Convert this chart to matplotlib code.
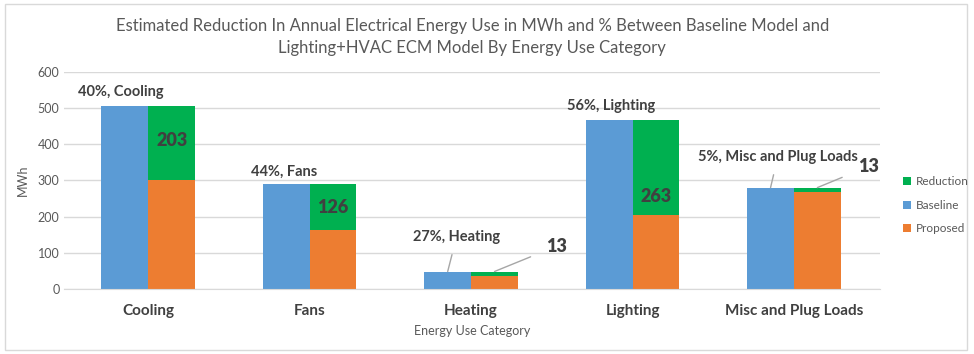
import matplotlib.pyplot as plt
import numpy as np
from matplotlib.patches import Rectangle

categories = ["Cooling", "Fans", "Heating", "Lighting", "Misc and Plug Loads"]
baseline = [505, 289, 48, 468, 280]
proposed = [302, 163, 35, 205, 267]
reduction = [203, 126, 13, 263, 13]
pct_labels = ["40%, Cooling", "44%, Fans", "27%, Heating", "56%, Lighting", "5%, Misc and Plug Loads"]

plt.rcParams['font.family'] = ['Lato', 'DejaVu Sans']

c_base = '#5B9BD5'
c_prop = '#ED7D31'
c_red = '#00B050'
txt = '#404040'
gray = '#595959'

fig = plt.figure(figsize=(9.74, 3.54), dpi=100)
fig.patches.append(Rectangle((0.005, 0.012), 0.988, 0.976, transform=fig.transFigure,
                             fill=False, edgecolor='#D9D9D9', lw=1))
ax = fig.add_axes([0.066, 0.184, 0.837, 0.613])

x = np.arange(len(categories))
w = 0.29
ax.bar(x - w/2, baseline, w, color=c_base, label='Baseline', zorder=2)
ax.bar(x + w/2, proposed, w, color=c_prop, label='Proposed', zorder=2)
ax.bar(x + w/2, reduction, w, bottom=proposed, color=c_red, label='Reduction', zorder=2)

ax.set_xlim(-0.52, 4.53)
ax.set_ylim(0, 600)
ax.set_yticks(range(0, 601, 100))
ax.yaxis.grid(True, color='#D9D9D9', lw=1, zorder=0)
for s in ['top', 'right', 'left']:
    ax.spines[s].set_visible(False)
ax.spines['bottom'].set_color('#D9D9D9')
ax.tick_params(axis='both', length=0)
ax.tick_params(axis='y', labelsize=9, labelcolor=gray)
ax.set_xticks(x)
ax.set_xticklabels(categories, fontsize=11, fontweight='bold', color=txt)
ax.tick_params(axis='x', pad=11)
ax.set_xlabel("Energy Use Category", fontsize=9, color=gray, labelpad=5)
ax.set_ylabel("MWh", fontsize=9, color=gray, labelpad=6)

fig.text(0.485, 0.895, "Estimated Reduction In Annual Electrical Energy Use in MWh and % Between Baseline Model and\nLighting+HVAC ECM Model By Energy Use Category",
         ha='center', va='center', fontsize=12, color=gray, linespacing=1.45)

# percentage labels above baseline bars
pct_pos = [(-0.17, 544), (-0.16, 323), (-0.09, 144), (-0.13, 505), (-0.10, 365)]
for i, (lab, (dx, y)) in enumerate(zip(pct_labels, pct_pos)):
    if i in (2, 4):
        ax.annotate(lab, xy=(i - w/2, baseline[i]), xytext=(i + dx, y),
                    ha='center', va='center', fontsize=10.5, fontweight='bold', color=txt,
                    arrowprops=dict(arrowstyle='-', color='#A6A6A6', lw=1, shrinkA=6, shrinkB=0))
    else:
        ax.text(i + dx, y, lab, ha='center', va='center', fontsize=10.5, fontweight='bold', color=txt)

# reduction labels
red_pos = {0: 409, 1: 226, 3: 254}
for i, y in red_pos.items():
    ax.text(i + w/2, y, str(reduction[i]), ha='center', va='center',
            fontsize=13, fontweight='heavy', color=txt)
for i, (dx, y) in [(2, (0.53, 118)), (4, (0.46, 338))]:
    ax.annotate(str(reduction[i]), xy=(i + w/2, baseline[i]), xytext=(i + dx, y),
                ha='center', va='center', fontsize=13, fontweight='heavy', color=txt,
                arrowprops=dict(arrowstyle='-', color='#A6A6A6', lw=1, shrinkA=10, shrinkB=0))

h, l = ax.get_legend_handles_labels()
order = [2, 0, 1]
fig.legend([h[k] for k in order], [l[k] for k in order], loc='center left',
           bbox_to_anchor=(0.916, 0.42), frameon=False, fontsize=8.5,
           handlelength=0.7, handleheight=0.7, labelspacing=1.05, handletextpad=0.4,
           labelcolor=gray)

fig.savefig('out.png', dpi=100)
